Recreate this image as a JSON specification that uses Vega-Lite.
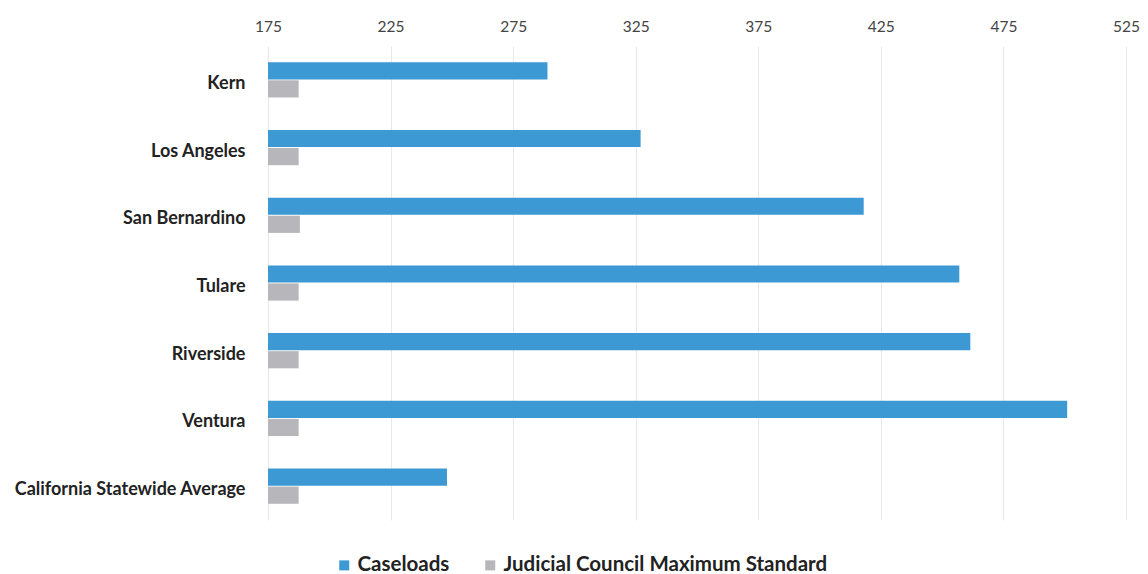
{
  "$schema": "https://vega.github.io/schema/vega-lite/v6.json",
  "width": 858,
  "height": 474,
  "autosize": "none",
  "padding": {"left": 268, "top": 46, "right": 22, "bottom": 54},
  "background": "white",
  "config": {"view": {"stroke": null}, "font": "Lato"},
  "data": {"values": [
    {"county": "Kern", "series": "Caseloads", "value": 289},
    {"county": "Kern", "series": "Judicial Council Maximum Standard", "value": 187.5},
    {"county": "Los Angeles", "series": "Caseloads", "value": 327},
    {"county": "Los Angeles", "series": "Judicial Council Maximum Standard", "value": 187.5},
    {"county": "San Bernardino", "series": "Caseloads", "value": 418},
    {"county": "San Bernardino", "series": "Judicial Council Maximum Standard", "value": 188},
    {"county": "Tulare", "series": "Caseloads", "value": 457},
    {"county": "Tulare", "series": "Judicial Council Maximum Standard", "value": 187.5},
    {"county": "Riverside", "series": "Caseloads", "value": 461.5},
    {"county": "Riverside", "series": "Judicial Council Maximum Standard", "value": 187.5},
    {"county": "Ventura", "series": "Caseloads", "value": 501},
    {"county": "Ventura", "series": "Judicial Council Maximum Standard", "value": 187.5},
    {"county": "California Statewide Average", "series": "Caseloads", "value": 248},
    {"county": "California Statewide Average", "series": "Judicial Council Maximum Standard", "value": 187.5}
  ]},
  "mark": {"type": "bar"},
  "encoding": {
    "y": {
      "field": "county", "type": "nominal",
      "sort": ["Kern", "Los Angeles", "San Bernardino", "Tulare", "Riverside", "Ventura", "California Statewide Average"],
      "scale": {"paddingInner": 0.48, "paddingOuter": 0.24},
      "axis": {"title": null, "domain": false, "ticks": false, "labelPadding": 23, "labelFontSize": 18, "labelFontWeight": "bold", "labelColor": "#222222", "labelOffset": 4, "labelLimit": 400, "labelFont": "Lato"}
    },
    "yOffset": {
      "field": "series", "type": "nominal",
      "sort": ["Caseloads", "Judicial Council Maximum Standard"],
      "scale": {"paddingInner": 0.05}
    },
    "x": {
      "field": "value", "type": "quantitative",
      "scale": {"domain": [175, 525], "zero": false, "nice": false},
      "axis": {"orient": "top", "title": null, "values": [175, 225, 275, 325, 375, 425, 475, 525], "domain": false, "ticks": false, "labelFlush": false, "labelPadding": 12, "labelFontSize": 15.5, "labelColor": "#444444", "gridColor": "#e8e8e8", "labelFont": "Lato"}
    },
    "x2": {"datum": 175},
    "color": {
      "field": "series", "type": "nominal",
      "scale": {"domain": ["Caseloads", "Judicial Council Maximum Standard"], "range": ["#3d99d3", "#b6b6bb"]},
      "legend": {"title": null, "orient": "none", "direction": "horizontal", "legendX": 66, "legendY": 509, "symbolType": "square", "symbolSize": 100, "labelFontSize": 20.5, "labelFontWeight": "bold", "labelColor": "#222222", "columnPadding": 30, "labelLimit": 600, "labelOffset": 3, "labelFont": "Lato"}
    }
  }
}
